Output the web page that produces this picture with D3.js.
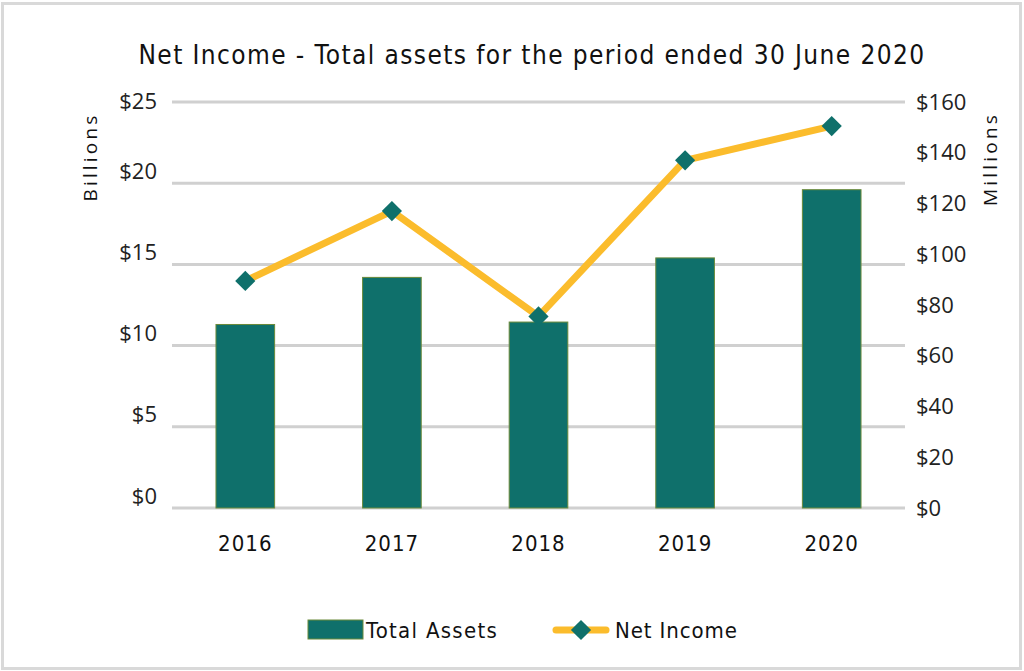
<!DOCTYPE html>
<html>
<head>
<meta charset="utf-8">
<script src="https://cdn.jsdelivr.net/npm/d3@7"></script>
<style>
  html, body { margin: 0; padding: 0; background: #fff; }
  svg { display: block; }
</style>
</head>
<body>
<svg id="chart" width="1024" height="671"></svg>
<script>
const years = ["2016", "2017", "2018", "2019", "2020"];
const totalAssets = [11.3, 14.2, 11.45, 15.4, 19.6];      // billions
const netIncome = [89.5, 117, 75.5, 137, 150.5];           // millions
const leftTicks = [0, 5, 10, 15, 20, 25];
const rightTicks = [0, 20, 40, 60, 80, 100, 120, 140, 160];
const titleText = "Net Income - Total assets for the period ended 30 June 2020";
const seriesNames = ["Total Assets", "Net Income"];

const svg = d3.select("#chart");
const plot = { left: 172, right: 905, top: 102, bottom: 508 };

const barColor = "#0f706b";
const lineColor = "#fbbc2c";
const condensed = "'DejaVu Sans Condensed', 'DejaVu Sans', sans-serif";
const tickFont = "'Open Sans', 'Noto Sans', sans-serif";

// border
svg.append("rect").attr("x", 2.5).attr("y", 3.5).attr("width", 1018).attr("height", 665)
  .attr("fill", "#fff").attr("stroke", "#d9d9d9").attr("stroke-width", 3);

const x = d3.scaleBand().domain(years).range([plot.left, plot.right]).paddingInner(0.6).paddingOuter(0.3);
const yL = d3.scaleLinear().domain([0, 25]).range([plot.bottom, plot.top]);
const yR = d3.scaleLinear().domain([0, 160]).range([plot.bottom, plot.top]);

// gridlines
svg.append("g").selectAll("line").data(leftTicks).join("line")
  .attr("x1", plot.left).attr("x2", plot.right)
  .attr("y1", d => yL(d)).attr("y2", d => yL(d))
  .attr("stroke", "#d0d0d0").attr("stroke-width", 3);

// left axis
const leftAxis = d3.axisLeft(yL).tickValues(leftTicks).tickFormat(d => "$" + d).tickSize(0).tickPadding(0);
const gl = svg.append("g").attr("transform", `translate(157,0)`).call(leftAxis);
gl.select(".domain").remove();
gl.selectAll("text").attr("font-family", tickFont).attr("font-size", 22).attr("fill", "#222")
  .attr("dy", d => d === 25 ? "0.3em" : "-0.22em");

// right axis
const rightAxis = d3.axisRight(yR).tickValues(rightTicks).tickFormat(d => "$" + d).tickSize(0).tickPadding(0);
const gr = svg.append("g").attr("transform", `translate(916,0)`).call(rightAxis);
gr.select(".domain").remove();
gr.selectAll("text").attr("font-family", tickFont).attr("font-size", 22).attr("fill", "#222");

// bars
svg.append("g").selectAll("rect").data(years).join("rect")
  .attr("x", d => x(d)).attr("width", x.bandwidth())
  .attr("y", (d, i) => yL(totalAssets[i]))
  .attr("height", (d, i) => yL(0) - yL(totalAssets[i]))
  .attr("fill", barColor).attr("stroke", "#6b8a3a").attr("stroke-width", 1);

// line
const cx = d => x(d) + x.bandwidth() / 2;
const line = d3.line().x((d, i) => cx(years[i])).y(d => yR(d));
svg.append("path").datum(netIncome).attr("d", line)
  .attr("fill", "none").attr("stroke", lineColor).attr("stroke-width", 7).attr("stroke-linejoin", "round");

const diamond = d3.symbol().type(d3.symbolDiamond2).size(260);
svg.append("g").selectAll("path").data(netIncome).join("path")
  .attr("d", diamond)
  .attr("transform", (d, i) => `translate(${cx(years[i])},${yR(d)})`)
  .attr("fill", barColor);

// x labels
svg.append("g").selectAll("text").data(years).join("text")
  .attr("x", d => cx(d)).attr("y", 551)
  .attr("text-anchor", "middle").attr("font-family", condensed).attr("font-size", 22)
  .attr("letter-spacing", 1).attr("fill", "#111")
  .text(d => d);

// title
svg.append("text").attr("x", 532).attr("y", 64).attr("text-anchor", "middle")
  .attr("font-family", condensed).attr("font-size", 26).attr("letter-spacing", 1.4)
  .attr("fill", "#111").text(titleText);

// axis titles
svg.append("text").attr("transform", "translate(97,157) rotate(-90)").attr("text-anchor", "middle")
  .attr("font-family", tickFont).attr("font-size", 19).attr("letter-spacing", 3.2).attr("fill", "#111").text("Billions");
svg.append("text").attr("transform", "translate(997,159) rotate(-90)").attr("text-anchor", "middle")
  .attr("font-family", tickFont).attr("font-size", 19).attr("letter-spacing", 3.2).attr("fill", "#111").text("Millions");

// legend
const lg = svg.append("g");
lg.append("rect").attr("x", 308).attr("y", 620).attr("width", 55).attr("height", 19)
  .attr("fill", barColor).attr("stroke", "#6b8a3a").attr("stroke-width", 1);
lg.append("text").attr("x", 366).attr("y", 638).attr("font-family", condensed).attr("font-size", 22)
  .attr("letter-spacing", 1.3).attr("fill", "#111").text(seriesNames[0]);
lg.append("line").attr("x1", 556).attr("x2", 606).attr("y1", 630).attr("y2", 630)
  .attr("stroke", lineColor).attr("stroke-width", 7).attr("stroke-linecap", "round");
lg.append("path").attr("d", diamond).attr("transform", "translate(581,630)").attr("fill", barColor);
lg.append("text").attr("x", 615).attr("y", 638).attr("font-family", condensed).attr("font-size", 22)
  .attr("letter-spacing", 0.9).attr("fill", "#111").text(seriesNames[1]);
</script>
</body>
</html>
